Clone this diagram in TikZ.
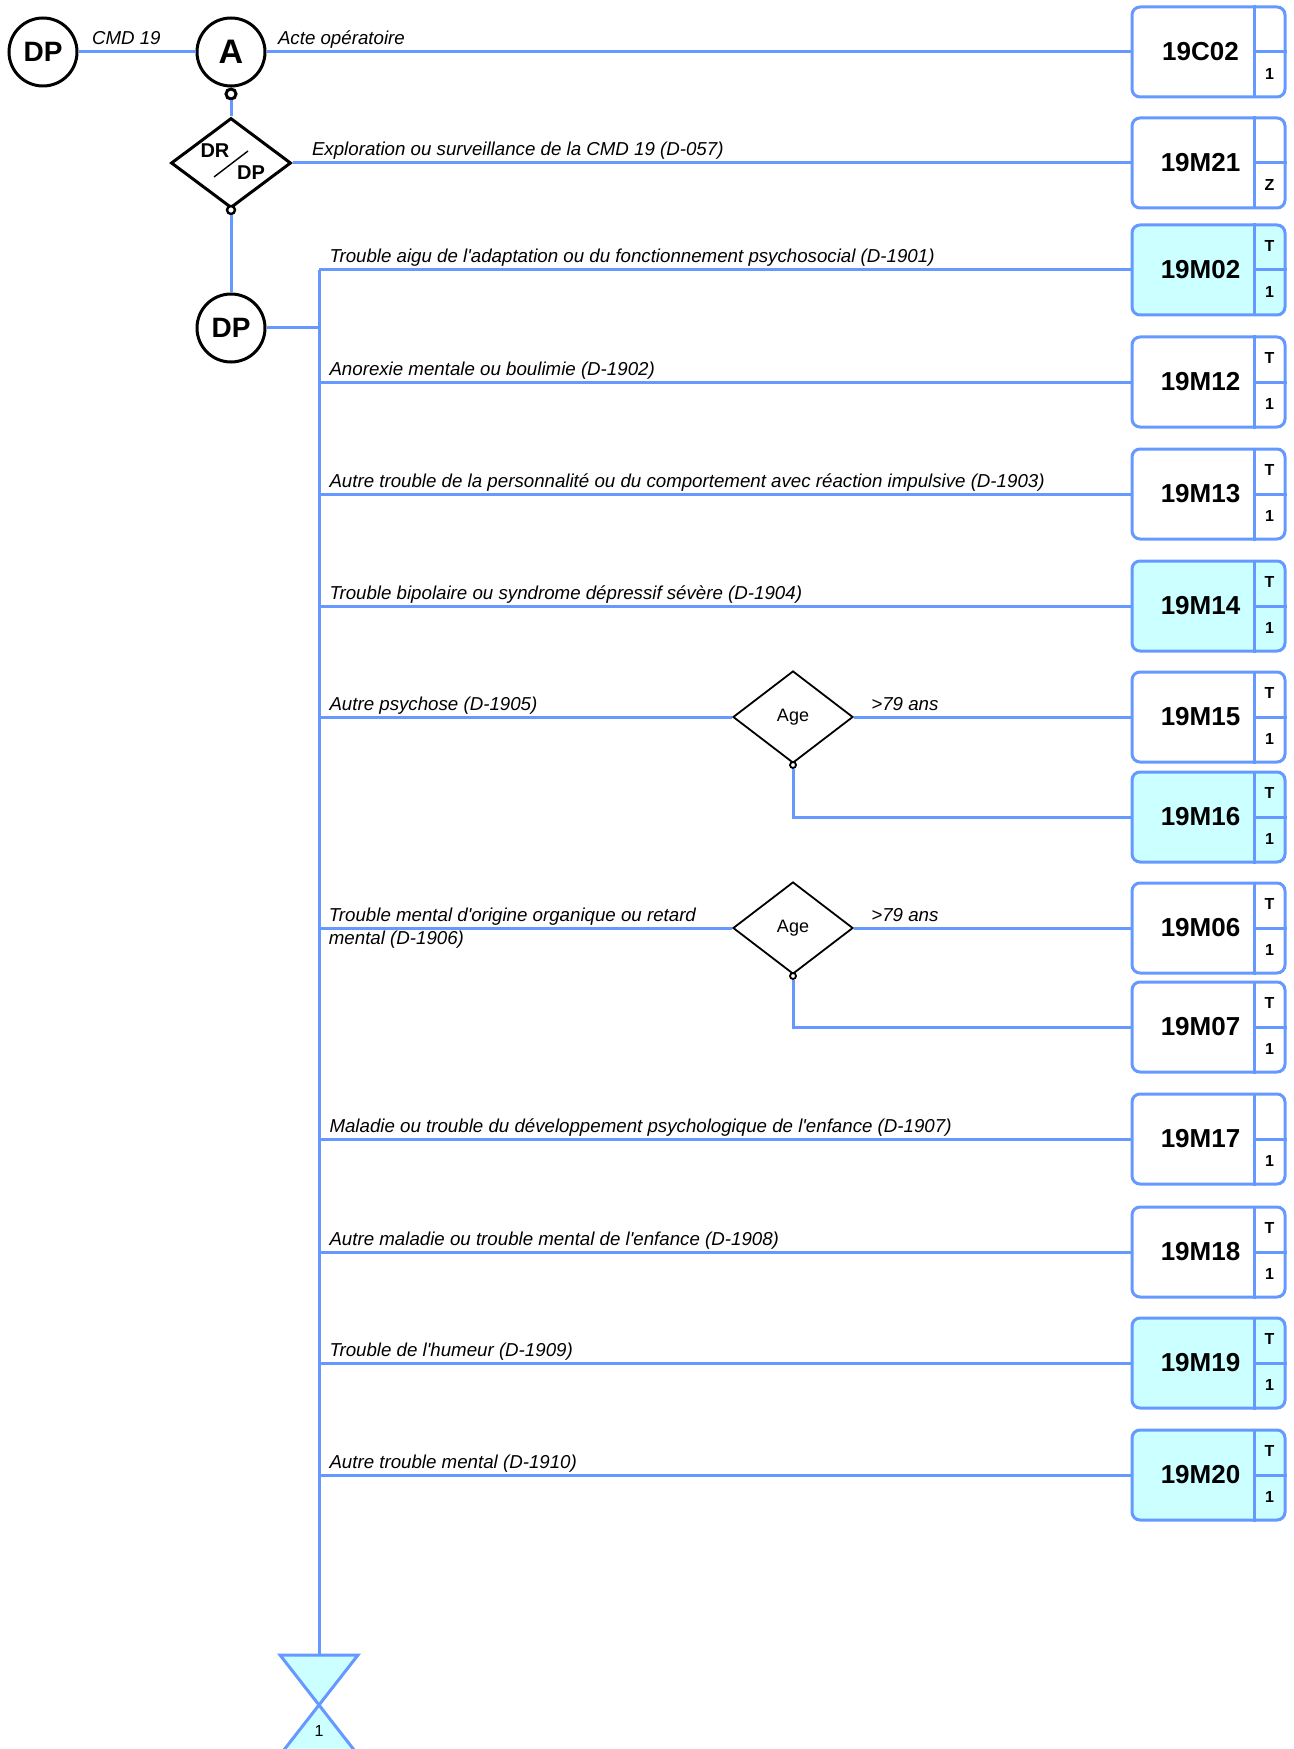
\documentclass[tikz,border=0pt]{standalone}
\usepackage{fontspec}
\setmainfont{Liberation Sans}[Ligatures=TeXOff]
\usepackage{tikz}
\usetikzlibrary{shapes.geometric}
\definecolor{lineblue}{HTML}{6699FF}
\definecolor{codefill}{HTML}{CCFFFF}

\begin{document}
\begin{tikzpicture}[x=0.5pt,y=-0.5pt,
  link/.style={draw=lineblue,line width=1.5pt},
  lbl/.style={font=\itshape\fontsize{9.35}{11.5}\selectfont,anchor=base west,
              inner sep=0pt,yshift=3.5pt,xshift=4.5pt},
  roundnode/.style={circle,draw,line width=1.5pt,minimum size=34pt,
                    inner sep=0pt,fill=white,font=\bfseries\fontsize{14}{14}\selectfont},
  hole/.style={circle,draw,line width=1.5pt,fill=white,inner sep=0pt,minimum size=5pt},
  agenode/.style={diamond,draw,line width=0.9pt,minimum width=60pt,minimum height=46pt,
                  inner sep=0pt,font=\fontsize{9}{9}\selectfont},
  codebox/.style={draw=lineblue,line width=1.5pt,rounded corners=4pt,
                  minimum width=76.5pt,minimum height=45pt,inner sep=0pt},
  boxcode/.style={font=\bfseries\fontsize{13}{13}\selectfont,inner sep=0pt},
  boxtag/.style={font=\bfseries\fontsize{8}{8}\selectfont,inner sep=0pt}]
  \useasboundingbox (0,0) rectangle (1294,1749);

  % code boxes on the right
  \foreach \nm/\yy/\cd/\tp/\bt/\fl in {
      c02/52/19C02//1/white, m21/163/19M21//Z/white,
      m02/270/19M02/T/1/codefill, m12/382/19M12/T/1/white,
      m13/494/19M13/T/1/white, m14/606/19M14/T/1/codefill,
      m15/717/19M15/T/1/white, m16/817/19M16/T/1/codefill,
      m06/928/19M06/T/1/white, m07/1027/19M07/T/1/white,
      m17/1139/19M17//1/white, m18/1252/19M18/T/1/white,
      m19/1363/19M19/T/1/codefill, m20/1475/19M20/T/1/codefill}{
    \node[codebox,fill=\fl] (\nm) at (1208.5,\yy) {};
    \draw[lineblue,line width=1.5pt] ([xshift=-16pt]\nm.north east) -- ([xshift=-16pt]\nm.south east);
    \draw[lineblue,line width=1.5pt] ([xshift=-16pt]\nm.east) -- (\nm.east);
    \node[boxcode] at ([xshift=-4pt]\nm.center) {\cd};
    \node[boxtag] at ([xshift=30.5pt,yshift=12pt]\nm.center) {\tp};
    \node[boxtag] at ([xshift=30.5pt,yshift=-11pt]\nm.center) {\bt};
  }

  % head of the tree
  \node[roundnode] (dp1) at (43,52) {DP};
  \node[roundnode,font=\bfseries\fontsize{17}{17}\selectfont] (a) at (231,52) {A};
  \node[hole] (ha) at (231,94) {};
  \node[diamond,draw,line width=1.5pt,minimum width=60pt,minimum height=45pt,
        inner sep=0pt] (drdp) at (231,163) {};
  \node[font=\bfseries\fontsize{10}{10}\selectfont,inner sep=0pt] (dr) at (215,151) {DR};
  \node[font=\bfseries\fontsize{10}{10}\selectfont,inner sep=0pt] (dp) at (251,173) {DP};
  \draw[line width=0.7pt] (214,177) -- (248,151);
  \node[hole,minimum size=4pt,line width=1.2pt] (hd) at (231,210) {};
  \node[roundnode] (dp2) at (231,328) {DP};

  \draw[link] (dp1.east) -- (a.west) node[lbl,at start,xshift=1.5pt] {CMD 19};
  \draw[link] (a.east) -- (c02.west) node[lbl,at start,xshift=0.5pt] {Acte opératoire};
  \draw[line width=1.5pt] (a.south) -- (ha.north);
  \draw[link] (ha.south) -- (drdp.north);
  \draw[link] (drdp.east) -- (m21.west) node[lbl,at start,xshift=4.5pt] {Exploration ou surveillance de la CMD 19 (D-057)};
  \draw[link] (hd.south) -- (dp2.north);

  % bus to the diagnoses
  \coordinate (bustop) at (319,270);
  \coordinate (hg) at (319,1655);
  \draw[link] (bustop) -- (hg);
  \draw[link] (dp2.east) -- (dp2.east -| bustop);

  \draw[link] (bustop) -- (m02.west) node[lbl,at start] {Trouble aigu de l'adaptation ou du fonctionnement psychosocial (D-1901)};
  \draw[link] (m12.west -| bustop) -- (m12.west) node[lbl,at start] {Anorexie mentale ou boulimie (D-1902)};
  \draw[link] (m13.west -| bustop) -- (m13.west) node[lbl,at start] {Autre trouble de la personnalité ou du comportement avec réaction impulsive (D-1903)};
  \draw[link] (m14.west -| bustop) -- (m14.west) node[lbl,at start] {Trouble bipolaire ou syndrome dépressif sévère (D-1904)};

  % age split, psychoses
  \node[agenode] (age1) at (793,717) {Age};
  \node[hole,minimum size=3pt,line width=0.9pt] (ha1) at (793,765) {};
  \draw[link] (m15.west -| bustop) -- (age1.west) node[lbl,at start] {Autre psychose (D-1905)};
  \draw[link] (age1.east) -- (m15.west) node[lbl,at start,xshift=3.5pt] {>79 ans};
  \draw[link] (ha1.south) |- (m16.west);

  % age split, organic disorders
  \node[agenode] (age2) at (793,928) {Age};
  \node[hole,minimum size=3pt,line width=0.9pt] (ha2) at (793,976) {};
  \draw[link] (m06.west -| bustop) -- (age2.west);
  \node[font=\itshape\fontsize{9.35}{11.5}\selectfont,anchor=west,align=left,inner sep=0pt]
    (l06) at (328.5,928) {Trouble mental d'origine organique ou retard\\mental (D-1906)};
  \draw[link] (age2.east) -- (m06.west) node[lbl,at start,xshift=3.5pt] {>79 ans};
  \draw[link] (ha2.south) |- (m07.west);

  \draw[link] (m17.west -| bustop) -- (m17.west) node[lbl,at start] {Maladie ou trouble du développement psychologique de l'enfance (D-1907)};
  \draw[link] (m18.west -| bustop) -- (m18.west) node[lbl,at start] {Autre maladie ou trouble mental de l'enfance (D-1908)};
  \draw[link] (m19.west -| bustop) -- (m19.west) node[lbl,at start] {Trouble de l'humeur (D-1909)};
  \draw[link] (m20.west -| bustop) -- (m20.west) node[lbl,at start] {Autre trouble mental (D-1910)};

  % end marker
  \draw[link,fill=codefill,line join=miter] (280,1655) -- (358,1655) -- (280,1755) -- (358,1755) -- cycle;
  \node[font=\fontsize{8}{8}\selectfont,inner sep=0pt] (hgnum) at (319,1731) {1};
\end{tikzpicture}
\end{document}
